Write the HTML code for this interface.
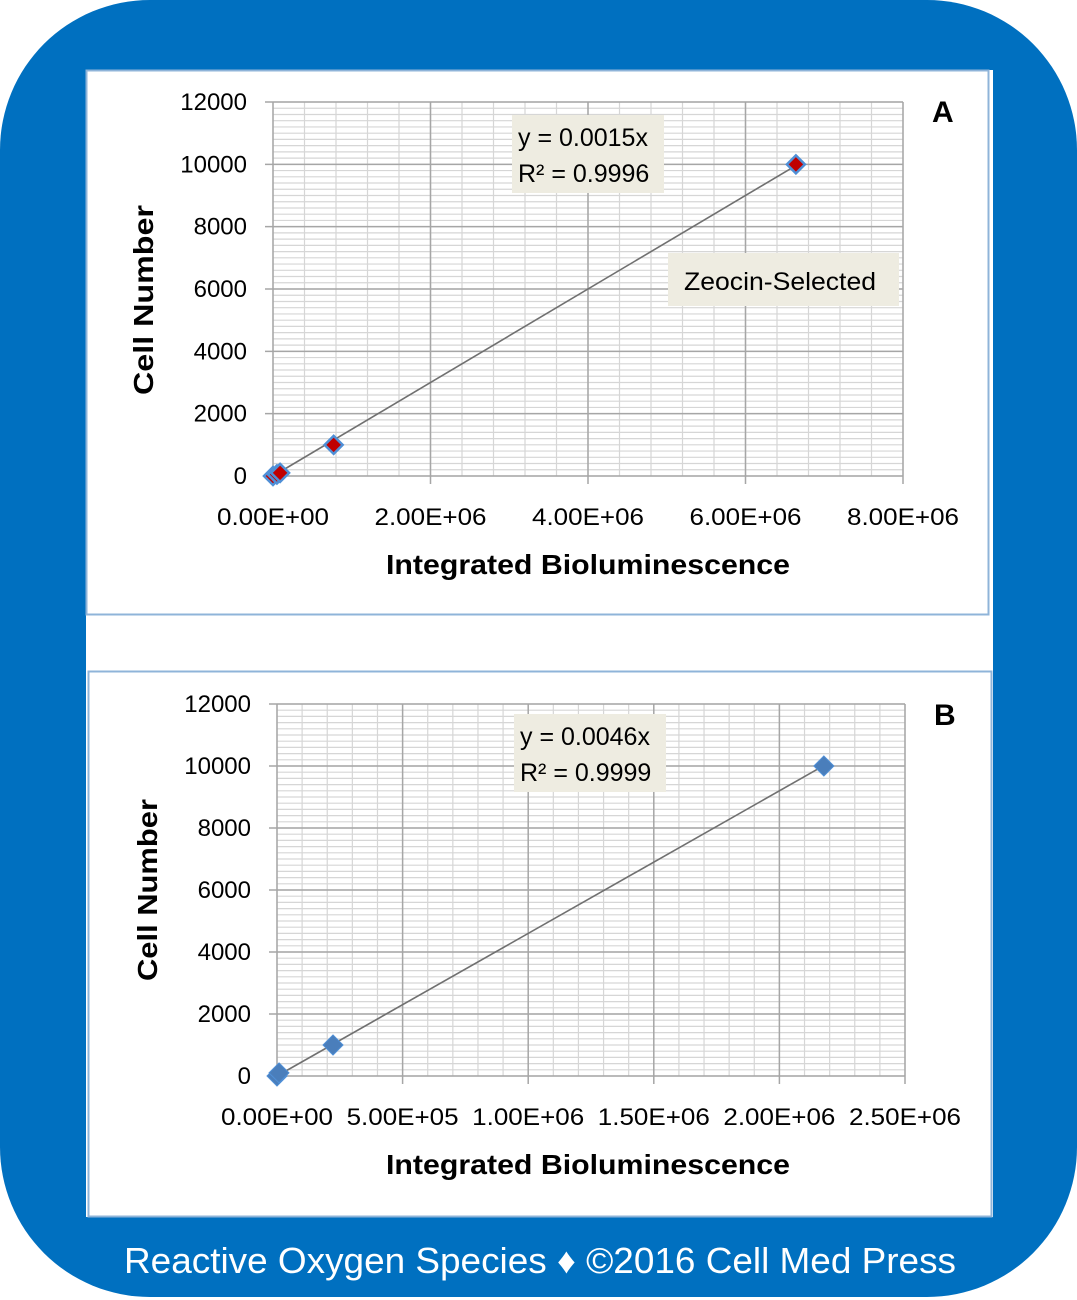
<!DOCTYPE html>
<html><head><meta charset="utf-8"><style>
html,body{margin:0;padding:0;background:#fff;}
svg{display:block;font-family:"Liberation Sans",sans-serif;}
</style></head><body>
<svg id="root" width="1077" height="1300" viewBox="0 0 1077 1300" xmlns="http://www.w3.org/2000/svg">
<rect x="0" y="0" width="1077" height="1297" rx="150" ry="150" fill="#0070C0"/>
<rect x="86" y="70" width="907" height="1147" fill="#fff"/>
<rect x="86.5" y="70.5" width="902" height="544" fill="#fff" stroke="#8fb4d9" stroke-width="2"/>
<rect x="88.5" y="671.5" width="903" height="545" fill="#fff" stroke="#8fb4d9" stroke-width="2"/>
<g id="chartA"></g>
<g id="chartB"></g>
<text x="540" y="1273" text-anchor="middle" font-size="36" fill="#fff" textLength="832" lengthAdjust="spacingAndGlyphs">Reactive Oxygen Species ♦ ©2016 Cell Med Press</text>
</svg>
<script>
// Chart A data
const aXValues = [0, 0.05e6, 0.09e6, 0.77e6, 6.64e6];
const aYValues = [0, 50, 100, 1000, 10000];
const aXTicks = [0, 2e6, 4e6, 6e6, 8e6];
const aXTickLabels = ["0.00E+00", "2.00E+06", "4.00E+06", "6.00E+06", "8.00E+06"];
const aYTicks = [0, 2000, 4000, 6000, 8000, 10000, 12000];
const aYTickLabels = ["0", "2000", "4000", "6000", "8000", "10000", "12000"];
const aSlope = [0.0015];
// Chart B data
const bXValues = [0, 0.008e6, 0.223e6, 2.177e6];
const bYValues = [0, 100, 1000, 10000];
const bXTicks = [0, 0.5e6, 1e6, 1.5e6, 2e6, 2.5e6];
const bXTickLabels = ["0.00E+00", "5.00E+05", "1.00E+06", "1.50E+06", "2.00E+06", "2.50E+06"];
const bYTicks = [0, 2000, 4000, 6000, 8000, 10000, 12000];
const bYTickLabels = ["0", "2000", "4000", "6000", "8000", "10000", "12000"];
const bSlope = [0.0046];

const NS = "http://www.w3.org/2000/svg";
function mk(parent, tag, attrs, text) {
  const e = document.createElementNS(NS, tag);
  for (const k in attrs) e.setAttribute(k, attrs[k]);
  if (text !== undefined) e.textContent = text;
  parent.appendChild(e);
  return e;
}

function drawChart(g, cfg) {
  const {L, R, T, B, xMax, yMax, xTicks, xLabels, yTicks, yLabels, xs, ys, slope, xMinorStep, red} = cfg;
  const sx = v => L + (v / xMax) * (R - L);
  const sy = v => B - (v / yMax) * (B - T);
  for (let v = 0; v <= yMax + 1e-9; v += 200) {
    const l = mk(g, "line", {x1: L, x2: R, y1: sy(v), y2: sy(v), stroke: "#d6d6d6", "stroke-width": 1.2});
    
    
  }
  for (let v = 0; v <= xMax + 1e-9; v += xMinorStep) {
    const l = mk(g, "line", {x1: sx(v), x2: sx(v), y1: T, y2: B, stroke: "#d6d6d6", "stroke-width": 1.2});
    
    
  }
  yTicks.forEach((v, i) => {
    const l = mk(g, "line", {x1: L - 8, x2: R, y1: sy(v), y2: sy(v), stroke: "#a6a6a6", "stroke-width": 1.5});
    
    
    const t = mk(g, "text", {x: L - 26, y: sy(v) + 8, "text-anchor": "end", "font-size": 24, fill: "#000"}, yLabels[i]);
    
    
  });
  xTicks.forEach((v, i) => {
    const l = mk(g, "line", {x1: sx(v), x2: sx(v), y1: T, y2: B + 8, stroke: "#a6a6a6", "stroke-width": 1.5});
    
    
    const t = mk(g, "text", {x: sx(v), y: B + 49, "text-anchor": "middle", "font-size": 24, fill: "#000", textLength: 112, lengthAdjust: "spacingAndGlyphs"}, xLabels[i]);
    
    
  });
  const xEnd = xs[xs.length - 1];
  const tl = mk(g, "line", {x1: sx(0), y1: sy(0), x2: sx(xEnd), y2: sy(slope[0] * xEnd), stroke: "#707070", "stroke-width": 1.6});
  
  
  xs.forEach((v, i) => {
    const cx = sx(v), cy = sy(ys[i]);
    const s = red ? 9 : 10;
    const p = mk(g, "polygon", {points: `${cx},${cy - s} ${cx + s},${cy} ${cx},${cy + s} ${cx - s},${cy}`, fill: red ? "#c00000" : "#4a7ebb", stroke: "#4f8fd6", "stroke-width": red ? 2.5 : 1});
    
    
  });
}

const gA = document.getElementById("chartA");
drawChart(gA, {L: 273, R: 903, T: 102, B: 476, xMax: 8e6, yMax: 12000, xTicks: aXTicks, xLabels: aXTickLabels, yTicks: aYTicks, yLabels: aYTickLabels, xs: aXValues, ys: aYValues, slope: aSlope, xMinorStep: 0.4e6, red: true});
const gB = document.getElementById("chartB");
drawChart(gB, {L: 277, R: 905, T: 704, B: 1076, xMax: 2.5e6, yMax: 12000, xTicks: bXTicks, xLabels: bXTickLabels, yTicks: bYTicks, yLabels: bYTickLabels, xs: bXValues, ys: bYValues, slope: bSlope, xMinorStep: 0.1e6, red: false});

function labels(g, o) {
  let r = mk(g, "rect", {x: o.bx, y: o.by, width: o.bw, height: 78, fill: "#eeece1"});
  
  
  let t = mk(g, "text", {x: o.bx + 6, y: o.by + 31, "font-size": 25, fill: "#000"}, o.eq);
  
  
  t = mk(g, "text", {x: o.bx + 6, y: o.by + 67, "font-size": 25, fill: "#000"}, o.r2);
  
  
  t = mk(g, "text", {x: o.lx, y: o.ly, "font-size": 30, "font-weight": "bold", fill: "#000"}, o.letter);
  
  
  t = mk(g, "text", {x: 588, y: o.xty, "text-anchor": "middle", "font-size": 28, "font-weight": "bold", fill: "#000", textLength: 404, lengthAdjust: "spacingAndGlyphs"}, "Integrated Bioluminescence");
  
  
  t = mk(g, "text", {x: 0, y: 0, "text-anchor": "middle", "font-size": 28, "font-weight": "bold", fill: "#000", textLength: o.ytl, lengthAdjust: "spacingAndGlyphs", transform: `translate(${o.ytx},${o.yty}) rotate(-90)`}, o.ytitle);
  
  
}
labels(gA, {bx: 512, by: 115, bw: 152, eq: "y = 0.0015x", r2: "R² = 0.9996", letter: "A", lx: 932, ly: 122, xty: 574, ytitle: "Cell  Number", ytx: 153, yty: 300, ytl: 190});
labels(gB, {bx: 514, by: 714, bw: 152, eq: "y = 0.0046x", r2: "R² = 0.9999", letter: "B", lx: 934, ly: 725, xty: 1174, ytitle: "Cell Number", ytx: 157, yty: 890, ytl: 182});

let zr = mk(gA, "rect", {x: 668, y: 253, width: 231, height: 53, fill: "#eeece1"});


let zt = mk(gA, "text", {x: 684, y: 290, "font-size": 25, fill: "#000", textLength: 192, lengthAdjust: "spacingAndGlyphs"}, "Zeocin-Selected");


</script>
</body></html>
